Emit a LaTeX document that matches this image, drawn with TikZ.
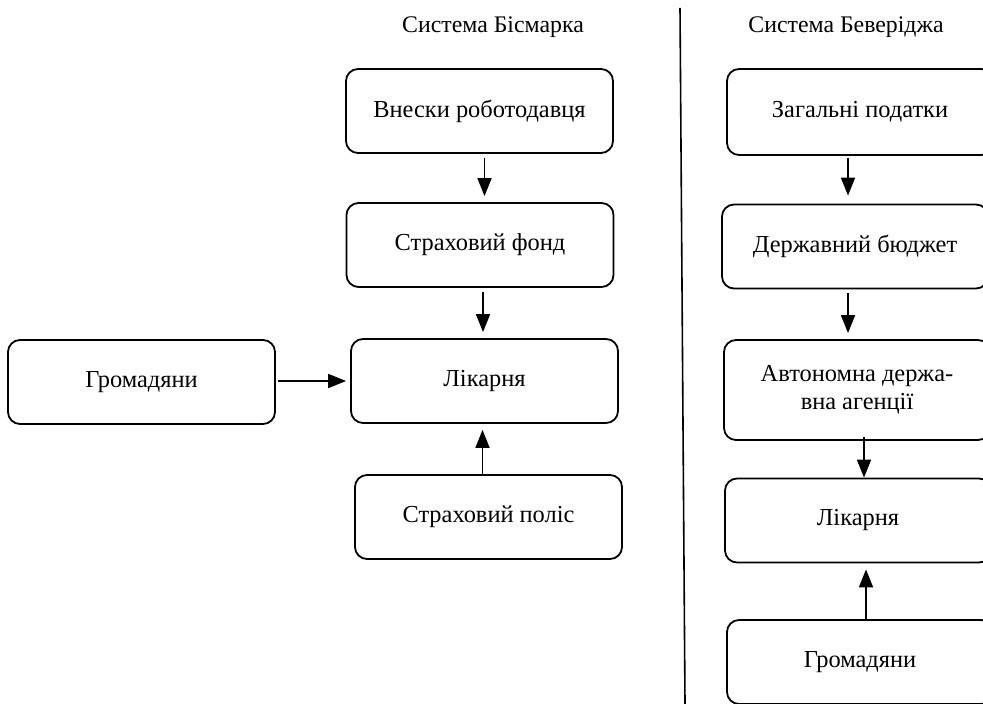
\documentclass[tikz,border=0pt]{standalone}
\usepackage{fontspec}
\setmainfont{Liberation Serif}
\usetikzlibrary{arrows.meta,positioning}

\begin{document}
\begin{tikzpicture}[x=0.5pt,y=-0.5pt,inner sep=0.4mm,
  blok/.style={draw,line width=0.9pt,rounded corners=6pt,minimum width=133.5pt,minimum height=42pt,align=center,font=\fontsize{12.2}{14}\selectfont},
  arr/.style={-{Triangle[width=7pt,length=9pt]},line width=0.9pt}]
\useasboundingbox (0,0) rectangle (983,704);
% titles
\node (tb) at (493,27) {\fontsize{11.9}{14}\selectfont Система Бісмарка};
\node (tv) at (846,27) {\fontsize{11.9}{14}\selectfont Система Беверіджа};
\draw[line width=0.8pt] (680,8) -- (685,704);
% Bismarck
\node[blok] (vnesky) at (479.5,111) {Внески роботодавця};
\node[blok] (fond) at (480,245) {Страховий фонд};
\node[blok] (likarnia) at (484.5,381) {Лікарня};
\node[blok] (hromada) at (141.5,382) {Громадяни};
\node[blok] (polis) at (488.5,517) {Страховий поліс};
\draw[arr,shorten <=2pt,shorten >=3pt] ([xshift=2.5pt]vnesky.south) -- ([xshift=2.5pt]vnesky.south |- fond.north);
\draw[arr,shorten <=2pt,shorten >=3pt] ([xshift=1.5pt]fond.south) -- ([xshift=1.5pt]fond.south |- likarnia.north);
\draw[arr,shorten <=1pt,shorten >=2pt] (hromada.east |- likarnia.west) -- (likarnia.west);
\draw[arr,shorten <=-1pt,shorten >=3pt] ([xshift=-3pt]polis.north) -- ([xshift=-3pt]polis.north |- likarnia.south);
% Beveridge
\node[blok,minimum width=133pt,minimum height=43pt] (podatky) at (860,112) {Загальні податки};
\node[blok,minimum width=133pt] (biudzhet) at (855,246.5) {Державний бюджет};
\node[blok,minimum width=133pt,minimum height=50pt] (ahentsia) at (857,390) {Автономна держа-\\вна агенції};
\node[blok,minimum width=133pt] (likarnia2) at (858,520.5) {Лікарня};
\node[blok,minimum width=133pt] (hromada2) at (860,662) {Громадяни};
\draw[arr,shorten <=1pt,shorten >=4pt] ([xshift=-6pt]podatky.south) -- ([xshift=-6pt]podatky.south |- biudzhet.north);
\draw[arr,shorten <=2pt,shorten >=3pt] ([xshift=-3.5pt]biudzhet.south) -- ([xshift=-3.5pt]biudzhet.south |- ahentsia.north);
\draw[arr,shorten <=-2pt,shorten >=0pt] ([xshift=3.5pt]ahentsia.south) -- ([xshift=3.5pt]ahentsia.south |- likarnia2.north);
\draw[arr,shorten <=0pt,shorten >=3pt] ([xshift=3pt]hromada2.north) -- ([xshift=3pt]hromada2.north |- likarnia2.south);
\end{tikzpicture}
\end{document}
